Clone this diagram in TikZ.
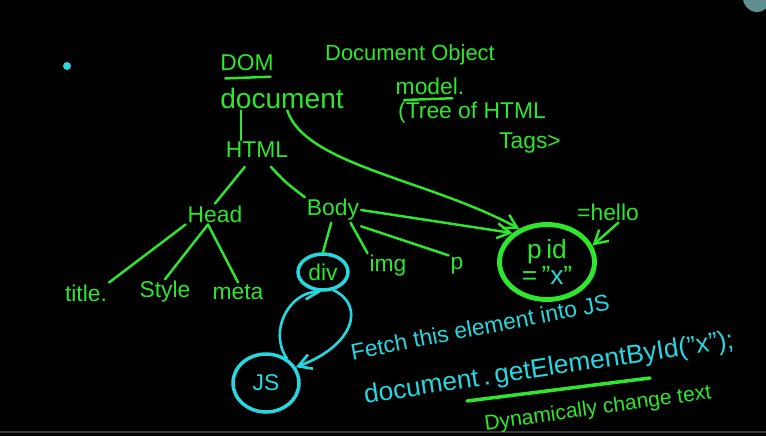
\documentclass[tikz,border=0pt]{standalone}
\usepackage{fontspec}
\setmainfont{Liberation Sans}
\usetikzlibrary{positioning,calc,arrows.meta,shapes.geometric}
\definecolor{bg}{HTML}{000000}
\definecolor{gn}{HTML}{2EE62E}
\definecolor{cy}{HTML}{26D7E0}
\definecolor{dot}{HTML}{2ED6E0}
\definecolor{icn}{HTML}{5F8F8F}
\definecolor{bar}{HTML}{3A3A3A}

\begin{document}
\begin{tikzpicture}[
  x=0.02cm,y=-0.02cm,
  font=\fontsize{13}{15}\selectfont,
  >={Straight Barb[length=2.6mm,width=3mm]},
  ink/.style={text=gn,inner sep=1pt},
  inkc/.style={text=cy,inner sep=1pt},
  link/.style={draw=gn,line width=1.4pt,line cap=round},
  linkc/.style={draw=cy,line width=1.5pt,line cap=round},
  ring/.style={ellipse,draw=cy,line width=2pt,text=gn,inner sep=1pt},
  ]
% ---- board ----
\fill[bg] (0,0) rectangle (766,436);
\useasboundingbox (0,0) rectangle (766,436);
\fill[icn] (757,-2) circle (14);
\fill[bar] (0,431) rectangle (766,433);
\fill[dot] (67,66) circle (4);

% ---- heading notes ----
\node[ink] (dom) at (247,63) {DOM};
\node[ink,font=\fontsize{12.5}{15}\selectfont] (docobj) at (410,55) {Document Object};
\node[ink] (model) at (430,86) {model.};
\node[ink] (tree) at (472,113) {(Tree of HTML};
\node[ink] (tags) at (530,143) {Tags>};
\draw[link] ([xshift=4pt,yshift=-3pt]dom.south west) -- ([xshift=-3pt,yshift=-2pt]dom.south east);
\draw[link] ([xshift=6pt,yshift=-2pt]model.south west) -- ([xshift=-8pt,yshift=-1pt]model.south east);

% ---- tree ----
\node[ink,font=\fontsize{16}{18}\selectfont] (document) at (282,98) {document};
\node[ink] (html) at (257,150) {HTML};
\node[ink] (head) at (215,214) {Head};
\node[ink] (body) at (333,210) {Body};
\node[ink] (title) at (86,293) {title.};
\node[ink] (style) at (165,292) {Style};
\node[ink] (meta) at (238,292) {meta};
\node[ring,minimum width=1.0cm,minimum height=0.72cm] (div) at (323,272) {div};
\node[ink] (img) at (388,266) {img};
\node[ink] (p) at (457,266) {p};
\node[ellipse,draw=gn,line width=2.8pt,text=gn,align=center,inner sep=0pt,
  font=\fontsize{15}{17}\selectfont,
  minimum width=1.9cm,minimum height=1.5cm] (pid) at (547,262)
  {p\,id\\[-2pt]=\,"\textcolor{cy}{x}"};
\node[ink] (hello) at (608,212) {=hello};

\draw[link] ([xshift=-9pt]html.north) -- ([xshift=-9pt]html.north |- document.south);
\draw[link,->] ([xshift=3pt]document.south) .. controls (305,165) and (430,180) .. (pid.130);
\draw[link] (head.north) -- ([xshift=-7pt,yshift=-4pt]html.south);
\draw[link] ([xshift=8pt,yshift=-4pt]html.south) .. controls (285,182) .. (body.north west);
\draw[link] (head.south west) -- (title.north east);
\draw[link] ([xshift=-4pt]head.south) -- (style.north);
\draw[link] ([xshift=-4pt]head.south) -- (meta.north);
\draw[link,->] (body.east) -- (pid.140);
\draw[link] ([yshift=-2pt]body.south east) -- (p.north west);
\draw[link] ([xshift=-1pt]body.south) -- (div.north);
\draw[link] ([xshift=10pt]body.south) -- (img.north west);
\draw[link,->] ([xshift=6pt]hello.south) -- (pid.20);

% ---- JS side ----
\node[ring,text=cy,minimum width=1.32cm,minimum height=1.16cm] (js) at (266,383) {JS};
\draw[linkc,->] (js.50) .. controls (268,330) and (290,292) .. (div.265);
\draw[linkc,->] (div.300) .. controls (365,305) and (355,345) .. (js.28);

\node[inkc,rotate=11] (fetch) at (480,327) {Fetch this element into JS};
\node[inkc,rotate=8.5,font=\fontsize{15}{17}\selectfont] (getel) at (549,369) {document\,.\,getElementById("x");};
\draw[link,line width=2pt] ($(getel.center)+(-82,32)$) -- ($(getel.center)+(101,9)$);
\node[ink,rotate=8,font=\fontsize{12}{14}\selectfont] (dyn) at (598,409) {Dynamically change text};

\end{tikzpicture}
\end{document}
